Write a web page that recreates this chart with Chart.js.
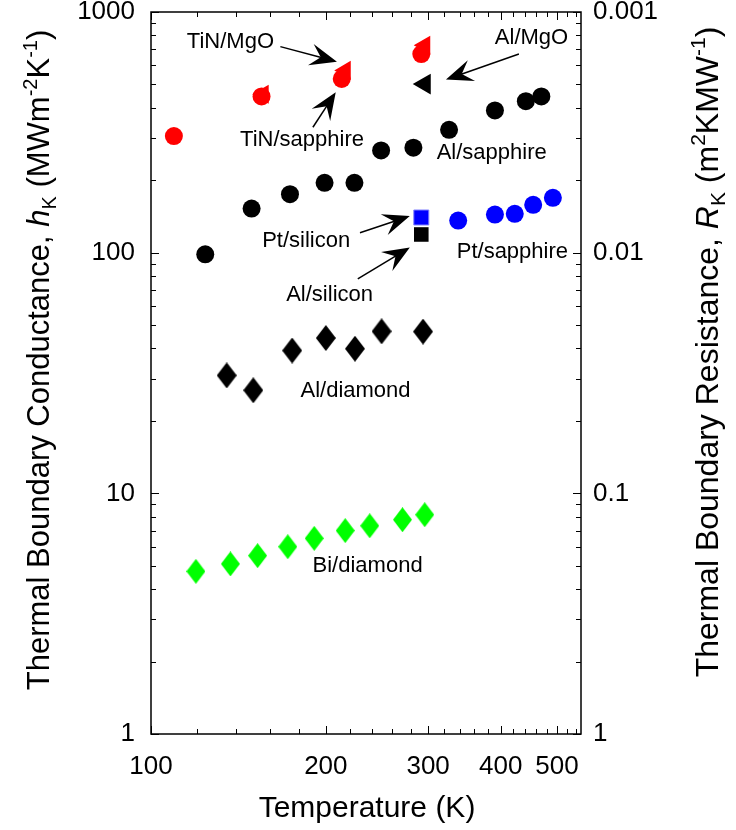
<!DOCTYPE html>
<html>
<head>
<meta charset="utf-8">
<script src="https://cdn.jsdelivr.net/npm/chart.js@4/dist/chart.umd.min.js"></script>
<style>
  body { margin: 0; background: #fff; }
  canvas { display: block; }
</style>
</head>
<body>
<canvas id="myChart" width="736" height="830"></canvas>
<script>
// data: temperature (K) and conductance hK (MW m^-2 K^-1)
const tinSapphireT = [109.5, 155, 213, 292];
const tinSapphireH = [305, 446, 527, 669];
const tinMgoT = [156, 216, 296];
const tinMgoH = [455, 572, 727];
const alMgoT = [296];
const alMgoH = [502];
const alSapphireT = [124, 149, 173.5, 199, 224, 249, 283, 326, 391, 442, 470];
const alSapphireH = [98.4, 152.5, 175, 195, 195, 266, 273, 324, 390, 426, 446];
const ptSapphireT = [338, 391, 423, 455, 492];
const ptSapphireH = [136, 144, 145, 158, 169];
const ptSiliconT = [292];
const ptSiliconH = [140];
const alSiliconT = [292];
const alSiliconH = [119];
const alDiamondT = [135, 150, 175, 200, 224.5, 249.5, 294];
const alDiamondH = [30.9, 26.8, 39.2, 44.2, 39.9, 47.1, 47];
const biDiamondT = [119.5, 137, 152.6, 172, 191, 216, 238, 271, 296];
const biDiamondH = [4.74, 5.09, 5.51, 6.0, 6.5, 7.0, 7.33, 7.77, 8.15];

// tick labels
const xTicks = [100, 200, 300, 400, 500];
const yTicks = [1, 10, 100, 1000];
const rTicks = [0.001, 0.01, 0.1, 1];
const xMinor = [120, 140, 160, 180, 220, 240, 260, 280, 320, 340, 360, 380, 420, 440, 460, 480, 520, 540];
const yMinor = [2, 3, 4, 5, 6, 7, 8, 9, 20, 30, 40, 50, 60, 70, 80, 90, 200, 300, 400, 500, 600, 700, 800, 900];

// text labels and arrows, in data coordinates
const labels = [
  { text: 'TiN/MgO', x: 137, y: 748 },
  { text: 'TiN/sapphire', x: 182, y: 293 },
  { text: 'Al/MgO', x: 452, y: 777 },
  { text: 'Al/sapphire', x: 386, y: 260 },
  { text: 'Pt/silicon', x: 185, y: 112 },
  { text: 'Pt/sapphire', x: 419, y: 101 },
  { text: 'Al/silicon', x: 203, y: 66.8 },
  { text: 'Al/diamond', x: 225, y: 26.6 },
  { text: 'Bi/diamond', x: 236, y: 5.0 }
];
const arrows = [
  { from: [167, 718], to: [209, 622] },
  { from: [190, 332], to: [208, 464] },
  { from: [430, 669], to: [322, 524] },
  { from: [229, 121], to: [279, 142] },
  { from: [227, 77.8], to: [279, 105] }
];

const FONT = '"Liberation Sans", Arial, Helvetica, sans-serif';

function pts(xs, ys) {
  return xs.map((x, i) => ({ x: x, y: ys[i] }));
}

function diamond(color, w, h) {
  const c = document.createElement('canvas');
  c.width = w; c.height = h;
  const g = c.getContext('2d');
  g.fillStyle = color;
  g.beginPath();
  g.moveTo(w / 2, 0);
  g.lineTo(w, h / 2);
  g.lineTo(w / 2, h);
  g.lineTo(0, h / 2);
  g.closePath();
  g.fill();
  return c;
}

function fixPadding(scale) {
  scale.paddingTop = 0;
  scale.paddingBottom = 0;
  scale.paddingLeft = 0;
  scale.paddingRight = 0;
}

// draws a list of runs (normal / italic / sub / sup) centred at 0,0
function drawRich(ctx, runs, size) {
  const small = Math.round(size * 0.65);
  let total = 0;
  runs.forEach(r => {
    const s = (r.k === 'sub' || r.k === 'sup') ? small : size;
    ctx.font = (r.k === 'italic' ? 'italic ' : '') + s + 'px ' + FONT;
    r.w = ctx.measureText(r.t).width;
    total += r.w;
  });
  let x = -total / 2;
  ctx.textBaseline = 'alphabetic';
  ctx.textAlign = 'left';
  runs.forEach(r => {
    const s = (r.k === 'sub' || r.k === 'sup') ? small : size;
    ctx.font = (r.k === 'italic' ? 'italic ' : '') + s + 'px ' + FONT;
    let dy = size * 0.36;
    if (r.k === 'sub') dy += size * 0.22;
    if (r.k === 'sup') dy -= size * 0.4;
    ctx.fillText(r.t, x, dy);
    x += r.w;
  });
}

const framePlugin = {
  id: 'frame',
  afterDatasetsDraw(chart) {
    const ctx = chart.ctx;
    const a = chart.chartArea;
    const xs = chart.scales.x;
    const ys = chart.scales.y;
    ctx.save();
    ctx.strokeStyle = '#000';
    ctx.lineWidth = 1.5;
    ctx.strokeRect(a.left, a.top, a.right - a.left, a.bottom - a.top);
    ctx.lineWidth = 1;
    ctx.beginPath();
    const xt = (v, len) => {
      const p = Math.round(xs.getPixelForValue(v)) + 0.5;
      ctx.moveTo(p, a.bottom); ctx.lineTo(p, a.bottom - len);
      ctx.moveTo(p, a.top); ctx.lineTo(p, a.top + len);
    };
    const yt = (v, len) => {
      const p = Math.round(ys.getPixelForValue(v)) + 0.5;
      ctx.moveTo(a.left, p); ctx.lineTo(a.left + len, p);
      ctx.moveTo(a.right, p); ctx.lineTo(a.right - len, p);
    };
    xTicks.forEach(v => xt(v, 8));
    xMinor.forEach(v => xt(v, 5));
    yTicks.forEach(v => yt(v, 8));
    yMinor.forEach(v => yt(v, 5));
    ctx.stroke();

    // labels
    ctx.fillStyle = '#000';
    ctx.font = '22px ' + FONT;
    ctx.textAlign = 'center';
    ctx.textBaseline = 'middle';
    labels.forEach(l => {
      ctx.fillText(l.text, xs.getPixelForValue(l.x), ys.getPixelForValue(l.y));
    });

    // arrows
    arrows.forEach(ar => {
      const x0 = xs.getPixelForValue(ar.from[0]), y0 = ys.getPixelForValue(ar.from[1]);
      const x1 = xs.getPixelForValue(ar.to[0]), y1 = ys.getPixelForValue(ar.to[1]);
      const ang = Math.atan2(y1 - y0, x1 - x0);
      const L = 27, W = 11;
      ctx.lineWidth = 1.5;
      ctx.beginPath();
      ctx.moveTo(x0, y0);
      ctx.lineTo(x1 - Math.cos(ang) * L * 0.6, y1 - Math.sin(ang) * L * 0.6);
      ctx.stroke();
      ctx.save();
      ctx.translate(x1, y1);
      ctx.rotate(ang);
      ctx.beginPath();
      ctx.moveTo(0, 0);
      ctx.lineTo(-L, -W);
      ctx.lineTo(-L * 0.62, 0);
      ctx.lineTo(-L, W);
      ctx.closePath();
      ctx.fill();
      ctx.restore();
    });

    // axis titles
    ctx.save();
    ctx.translate(38, 360);
    ctx.rotate(-Math.PI / 2);
    drawRich(ctx, [
      { t: 'Thermal Boundary Conductance, ', k: 'n' },
      { t: 'h', k: 'italic' },
      { t: 'K', k: 'sub' },
      { t: ' (MWm', k: 'n' },
      { t: '-2', k: 'sup' },
      { t: 'K', k: 'n' },
      { t: '-1', k: 'sup' },
      { t: ')', k: 'n' }
    ], 31);
    ctx.restore();

    ctx.save();
    ctx.translate(706, 352);
    ctx.rotate(-Math.PI / 2);
    drawRich(ctx, [
      { t: 'Thermal Boundary Resistance, ', k: 'n' },
      { t: 'R', k: 'italic' },
      { t: 'K', k: 'sub' },
      { t: ' (m', k: 'n' },
      { t: '2', k: 'sup' },
      { t: 'KMW', k: 'n' },
      { t: '-1', k: 'sup' },
      { t: ')', k: 'n' }
    ], 32);
    ctx.restore();

    ctx.save();
    ctx.translate(367, 806);
    drawRich(ctx, [{ t: 'Temperature (K)', k: 'n' }], 30);
    ctx.restore();

    ctx.restore();
  }
};

const ctx = document.getElementById('myChart').getContext('2d');
const blackDiamond = diamond('#000000', 20, 26);
const greenDiamond = diamond('#00ff00', 19, 25);

const myChart = new Chart(ctx, {
  type: 'scatter',
  data: {
    datasets: [
      { label: 'TiN/MgO', data: pts(tinMgoT, tinMgoH), pointStyle: 'triangle', rotation: -90, pointRadius: 11,
        backgroundColor: '#ff0000', borderColor: '#ff0000', borderWidth: 0 },
      { label: 'TiN/sapphire', data: pts(tinSapphireT, tinSapphireH), pointStyle: 'circle', pointRadius: 9,
        backgroundColor: '#ff0000', borderColor: '#ff0000', borderWidth: 0 },
      { label: 'Al/MgO', data: pts(alMgoT, alMgoH), pointStyle: 'triangle', rotation: -90, pointRadius: 12,
        backgroundColor: '#000000', borderColor: '#000000', borderWidth: 0 },
      { label: 'Al/sapphire', data: pts(alSapphireT, alSapphireH), pointStyle: 'circle', pointRadius: 9,
        backgroundColor: '#000000', borderColor: '#000000', borderWidth: 0 },
      { label: 'Pt/sapphire', data: pts(ptSapphireT, ptSapphireH), pointStyle: 'circle', pointRadius: 9,
        backgroundColor: '#0000ff', borderColor: '#0000ff', borderWidth: 0 },
      { label: 'Pt/silicon', data: pts(ptSiliconT, ptSiliconH), pointStyle: 'rect', pointRadius: 10.6,
        backgroundColor: '#0000ff', borderColor: '#8080ff', borderWidth: 1 },
      { label: 'Al/silicon', data: pts(alSiliconT, alSiliconH), pointStyle: 'rect', pointRadius: 10.3,
        backgroundColor: '#000000', borderColor: '#000000', borderWidth: 0 },
      { label: 'Al/diamond', data: pts(alDiamondT, alDiamondH), pointStyle: blackDiamond },
      { label: 'Bi/diamond', data: pts(biDiamondT, biDiamondH), pointStyle: greenDiamond }
    ]
  },
  options: {
    responsive: false,
    animation: false,
    events: [],
    layout: { padding: { top: 9, left: 0, right: 0, bottom: 0 } },
    plugins: {
      legend: { display: false },
      tooltip: { enabled: false }
    },
    scales: {
      x: {
        type: 'logarithmic',
        min: 100,
        max: 550,
        grid: { display: false, drawTicks: false },
        border: { display: false },
        afterBuildTicks: s => { s.ticks = xTicks.map(v => ({ value: v })); },
        afterFit: s => { s.height = 96; fixPadding(s); },
        ticks: {
          autoSkip: false, maxRotation: 0, padding: 17, color: '#000',
          font: { family: FONT, size: 26 },
          callback: v => String(v)
        }
      },
      y: {
        type: 'logarithmic',
        position: 'left',
        min: 1,
        max: 1000,
        grid: { display: false, drawTicks: false },
        border: { display: false },
        afterBuildTicks: s => { s.ticks = yTicks.map(v => ({ value: v })); },
        afterFit: s => { s.width = 151; fixPadding(s); },
        ticks: {
          padding: 16, color: '#000',
          font: { family: FONT, size: 26 },
          callback: v => String(v)
        }
      },
      y2: {
        type: 'logarithmic',
        position: 'right',
        reverse: true,
        min: 0.001,
        max: 1,
        grid: { display: false, drawTicks: false },
        border: { display: false },
        afterBuildTicks: s => { s.ticks = rTicks.map(v => ({ value: v })); },
        afterFit: s => { s.width = 155; fixPadding(s); },
        ticks: {
          padding: 12, color: '#000',
          font: { family: FONT, size: 26 },
          callback: v => String(v)
        }
      }
    }
  },
  plugins: [framePlugin]
});
</script>
</body>
</html>
